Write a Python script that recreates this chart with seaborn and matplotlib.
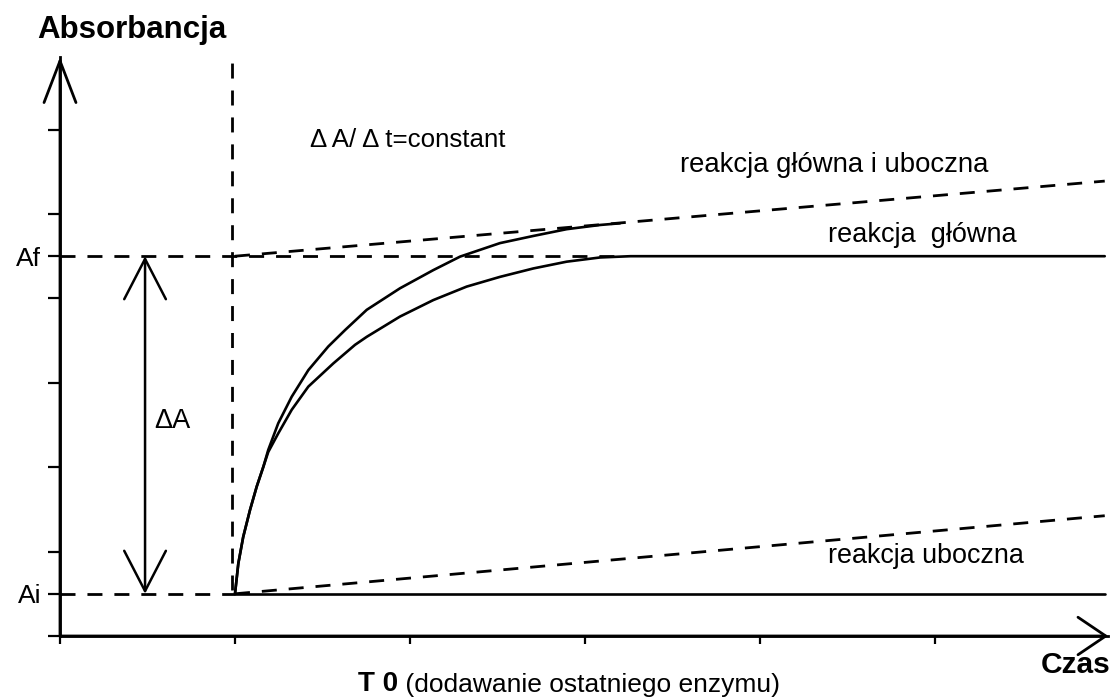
import matplotlib
matplotlib.use("Agg")
import matplotlib.pyplot as plt
import seaborn as sns

# --- data (time in arbitrary units, T0 = 1; absorbance in arbitrary units) ---
x_ticks = [0, 1, 2, 3, 4, 5]
y_ticks = [0, 1, 2, 4, 6, 8, 9, 10, 12]
y_tick_labels = ["", "Ai", "", "", "", "", "Af", "", ""]

A_i = 1.0
A_f = 9.0
t0 = 1.0
t_end = 5.97

# main + side reaction
both_t = [1.0, 1.019, 1.047, 1.086, 1.124, 1.162, 1.190, 1.247, 1.324, 1.419,
          1.533, 1.629, 1.753, 1.943, 2.133, 2.286, 2.514, 2.705, 2.895,
          3.086, 3.2]
both_A = [1.0, 1.72, 2.35, 2.99, 3.54, 4.01, 4.41, 5.04, 5.67, 6.30,
          6.86, 7.25, 7.73, 8.24, 8.67, 8.99, 9.31, 9.48, 9.64,
          9.74, 9.78]

# main reaction only (rises, then plateau at Af)
main_t = [1.0, 1.019, 1.047, 1.086, 1.124, 1.162, 1.190, 1.247, 1.324, 1.419,
          1.562, 1.686, 1.753, 1.943, 2.133, 2.324, 2.514, 2.705, 2.895,
          3.086, 3.26, 5.97]
main_A = [1.0, 1.72, 2.35, 2.99, 3.54, 4.01, 4.36, 4.80, 5.36, 5.91,
          6.46, 6.90, 7.09, 7.57, 7.96, 8.28, 8.51, 8.71, 8.87,
          8.97, 9.0, 9.0]

# no reaction baseline
base_t = [t0, t_end]
base_A = [A_i, A_i]

# linear (dA/dt = constant) extrapolations
both_lin_t = [t0, t_end]
both_lin_A = [A_f, 10.78]
side_lin_t = [t0, t_end]
side_lin_A = [A_i, 2.85]

# guide lines
af_guide_t = [0, 3.2]
af_guide_A = [A_f, A_f]
ai_guide_t = [0, t0]
ai_guide_A = [A_i, A_i]
t0_guide_t = [0.98, 0.98]
t0_guide_A = [1.1, 13.72]

x_tip = 5.99
y_tip = 13.72
delta_t = 0.486

sns.set_theme(style="white")
plt.rcParams["font.family"] = ["Liberation Sans", "DejaVu Sans"]
plt.rcParams["text.color"] = "black"
plt.rcParams["xtick.color"] = "black"
plt.rcParams["ytick.color"] = "black"

fig = plt.figure(figsize=(11.1, 6.97), dpi=100)
ax = fig.add_axes([0, 0, 1, 1])
ax.set_xlim(-60 / 175, 1050 / 175)
ax.set_ylim(-61 / 42.2, 636 / 42.2)

dash = (0, (5.4, 4.3))
solid_kw = dict(color="black", lw=1.9, estimator=None, sort=False)
dash_kw = dict(color="black", lw=2.0, estimator=None, sort=False, linestyle=dash)

sns.lineplot(x=both_t, y=both_A, ax=ax, **solid_kw)
sns.lineplot(x=main_t, y=main_A, ax=ax, **solid_kw)
sns.lineplot(x=base_t, y=base_A, ax=ax, **solid_kw)

sns.lineplot(x=both_lin_t, y=both_lin_A, ax=ax, **dash_kw)
sns.lineplot(x=side_lin_t, y=side_lin_A, ax=ax, **dash_kw)
sns.lineplot(x=af_guide_t, y=af_guide_A, ax=ax, **dash_kw)
sns.lineplot(x=ai_guide_t, y=ai_guide_A, ax=ax, **dash_kw)
sns.lineplot(x=t0_guide_t, y=t0_guide_A, ax=ax, **dash_kw)

# axes with open arrow heads
for s in ["top", "right"]:
    ax.spines[s].set_visible(False)
ax.spines["left"].set_position(("data", 0))
ax.spines["bottom"].set_position(("data", 0))
ax.spines["left"].set_bounds(0, y_tip)
ax.spines["bottom"].set_bounds(0, x_tip)
for s in ["left", "bottom"]:
    ax.spines[s].set_color("black")
    ax.spines[s].set_linewidth(2.0)

ax.annotate("", xy=(0, y_tip), xytext=(0, 0),
            arrowprops=dict(arrowstyle="->,head_length=3.0,head_width=1.15",
                            lw=2.0, color="black", shrinkA=0, shrinkB=0,
                            mutation_scale=10))
ax.annotate("", xy=(x_tip, 0), xytext=(0, 0),
            arrowprops=dict(arrowstyle="->,head_length=2.0,head_width=1.35",
                            lw=2.0, color="black", shrinkA=0, shrinkB=0,
                            mutation_scale=10))
ax.annotate("", xy=(delta_t, A_f), xytext=(delta_t, A_i),
            arrowprops=dict(arrowstyle="<->,head_length=2.9,head_width=1.5",
                            lw=1.8, color="black", shrinkA=0, shrinkB=0,
                            mutation_scale=10))

ax.set_xticks(x_ticks)
ax.set_xticklabels([])
ax.set_yticks(y_ticks)
ax.set_yticklabels(y_tick_labels, fontsize=19)
ax.tick_params(axis="x", direction="out", length=6, width=1.6, color="black",
               bottom=True)
ax.tick_params(axis="y", direction="out", length=8.6, width=1.6, color="black",
               left=True, pad=5, labelcolor="black")
ax.set_xlabel("")
ax.set_ylabel("")
ax.grid(False)

# texts
ax.text(0.411, 14.36, "Absorbancja", fontsize=22.5, fontweight="bold",
        ha="center", va="center")
ax.text(6.0, -0.69, "Czas", fontsize=21.5, fontweight="bold",
        ha="right", va="center")
ax.text(0.54, 5.1, "\u0394A", fontsize=19.5, ha="left", va="center")
ax.text(1.429, 11.75, "\u0394 A/ \u0394 t=constant", fontsize=18.6,
        ha="left", va="center")
ax.text(3.543, 11.16, "reakcja g\u0142\u00f3wna i uboczna", fontsize=19.8,
        ha="left", va="center")
ax.text(4.389, 9.50, "reakcja  g\u0142\u00f3wna", fontsize=19.5,
        ha="left", va="center")
ax.text(4.389, 1.90, "reakcja uboczna", fontsize=19.4,
        ha="left", va="center")
t0_txt = ax.text(1.703, -1.14, "T 0", fontsize=20, fontweight="bold",
                 ha="left", va="center")
ax.annotate(" (dodawanie ostatniego enzymu)", xy=(1, 0), xycoords=t0_txt,
            fontsize=19, ha="left", va="bottom")

fig.savefig("out.png", dpi=100, facecolor="white")
